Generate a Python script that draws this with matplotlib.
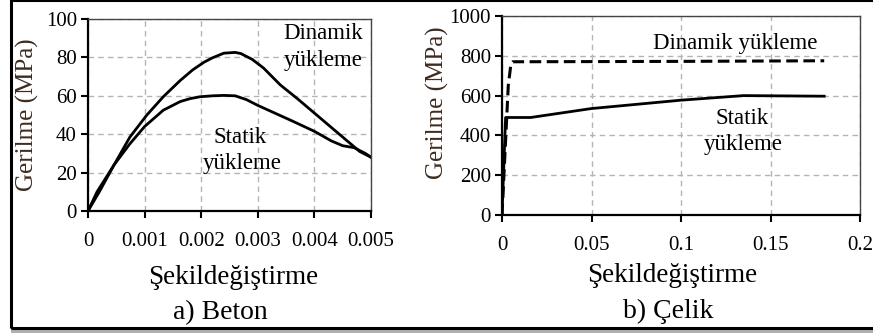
import matplotlib
matplotlib.use("Agg")
import matplotlib.pyplot as plt
from matplotlib.patches import Rectangle

plt.rcParams['font.family'] = ['Liberation Serif', 'DejaVu Serif']

# Concrete (Beton)
beton_dyn_strain = [0, 0.00016, 0.00046, 0.00074, 0.00104, 0.00133, 0.00163, 0.00185, 0.00205, 0.0022, 0.0024, 0.0026, 0.0027, 0.0029, 0.0031, 0.0034, 0.0037, 0.004, 0.0043, 0.0046, 0.0048, 0.005]
beton_dyn_stress = [0, 10, 24, 38.5, 50, 59.5, 68, 73.5, 77.5, 79.8, 82.2, 82.6, 82, 79, 74.5, 65.6, 58.5, 51, 43.5, 36, 31, 28]
beton_sta_strain = [0, 0.0002, 0.00046, 0.00074, 0.001, 0.00133, 0.00163, 0.0018, 0.00198, 0.0022, 0.0024, 0.0026, 0.0028, 0.003, 0.0033, 0.0036, 0.004, 0.0043, 0.0045, 0.0047, 0.0049, 0.005]
beton_sta_stress = [0, 10, 24, 35, 44, 52.5, 57, 58.5, 59.5, 60, 60.2, 60, 58, 55, 51, 47, 41.5, 36.5, 34, 33, 30, 28]

# Steel (Celik)
celik_dyn_strain = [0, 0.0035, 0.005, 0.006, 0.1, 0.18]
celik_dyn_stress = [0, 650, 760, 770, 772, 775]
celik_sta_strain = [0, 0.002, 0.016, 0.05, 0.1, 0.135, 0.18]
celik_sta_stress = [0, 490, 490, 535, 577, 600, 597]

beton_xticks = [0, 0.001, 0.002, 0.003, 0.004, 0.005]
beton_xlabels = ['0', '0.001', '0.002', '0.003', '0.004', '0.005']
beton_yticks = [0, 20, 40, 60, 80, 100]
celik_xticks = [0, 0.05, 0.1, 0.15, 0.2]
celik_xlabels = ['0', '0.05', '0.1', '0.15', '0.2']
celik_yticks = [0, 200, 400, 600, 800, 1000]

W, H = 873, 333
fig = plt.figure(figsize=(W/100, H/100), dpi=100)

def px(x0, y0, x1, y1):
    return [x0/W, 1 - y1/H, (x1-x0)/W, (y1-y0)/H]

ylab_color = '#3d2b1f'
tick_fs = 15

def style(ax, xt, xl, yt, xlim, ylim):
    ax.set_xlim(*xlim)
    ax.set_ylim(*ylim)
    ax.set_xticks(xt)
    ax.set_xticklabels(xl)
    ax.set_yticks(yt)
    ax.set_yticklabels([str(v) for v in yt])
    ax.tick_params(direction='out', length=5, width=1.5, labelsize=tick_fs, colors='black', pad=3)
    ax.tick_params(axis='x', pad=10)
    ax.grid(True, color='#b4b4b4', linestyle=(0, (4, 3)), linewidth=1.0)
    ax.set_axisbelow(True)
    for s in ['left', 'bottom']:
        ax.spines[s].set_linewidth(1.6)
        ax.spines[s].set_color('black')
    for s in ['top', 'right']:
        ax.spines[s].set_linewidth(1.0)
        ax.spines[s].set_color('#444444')
    ax.tick_params(top=False, right=False)

ax1 = fig.add_axes(px(88, 19, 371, 211))
ax1.plot(beton_dyn_strain, beton_dyn_stress, color='black', lw=2.0, solid_joinstyle='round')
ax1.plot(beton_sta_strain, beton_sta_stress, color='black', lw=2.0, solid_joinstyle='round')
style(ax1, beton_xticks, beton_xlabels, beton_yticks, (0, 0.005), (0, 100))
ax1.text(0.00415, 92.5, 'Dinamik', ha='center', va='center', fontsize=16.5)
ax1.text(0.00415, 78.5, 'yükleme', ha='center', va='center', fontsize=16.5)
ax1.text(0.00269, 38.5, 'Statik', ha='center', va='center', fontsize=16.5)
ax1.text(0.00272, 24.5, 'yükleme', ha='center', va='center', fontsize=16.5)

ax2 = fig.add_axes(px(502, 16, 860, 215))
ax2.plot(celik_dyn_strain, celik_dyn_stress, color='black', lw=2.2, linestyle=(0, (3.8, 1.8)))
ax2.plot(celik_sta_strain, celik_sta_stress, color='black', lw=2.0)
style(ax2, celik_xticks, celik_xlabels, celik_yticks, (0, 0.2), (0, 1000))
ax2.text(0.130, 862, 'Dinamik yükleme', ha='center', va='center', fontsize=16.5)
ax2.text(0.134, 487, 'Statik', ha='center', va='center', fontsize=16.5)
ax2.text(0.1345, 352, 'yükleme', ha='center', va='center', fontsize=16.5)

def ftext(x, y, s, **kw):
    fig.text(x/W, 1 - y/H, s, **kw)

ftext(233, 277, 'Şekildeğiştirme', ha='center', va='center', fontsize=19.5)
ftext(220, 313, 'a) Beton', ha='center', va='center', fontsize=20)
ftext(672, 276, 'Şekildeğiştirme', ha='center', va='center', fontsize=19.5)
ftext(668, 311, 'b) Çelik', ha='center', va='center', fontsize=20)
ftext(27, 115, 'Gerilme (MPa)', ha='center', va='center', fontsize=18, rotation=90, color=ylab_color)
ftext(437, 103, 'Gerilme (MPa)', ha='center', va='center', fontsize=18, rotation=90, color=ylab_color)

# outer frame with shadow
fig.patches.append(Rectangle((11/W, 1 - 333/H), 1.0, 4/H, transform=fig.transFigure,
                             facecolor='#b0b0b0', edgecolor='none', zorder=0))
fig.patches.append(Rectangle((11/W, 1 - 328/H), 1.0, 328/H, transform=fig.transFigure,
                             facecolor='none', edgecolor='black', linewidth=2.2, zorder=5))

fig.savefig('out.png', dpi=100)
